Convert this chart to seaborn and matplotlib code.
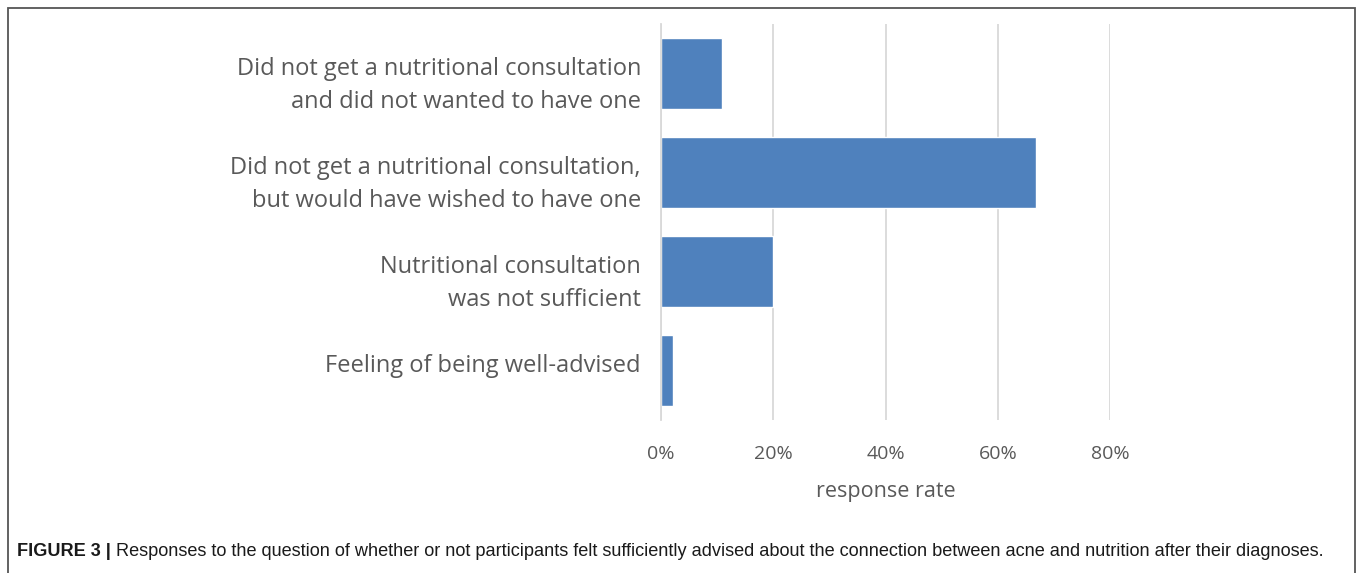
import matplotlib
matplotlib.use("Agg")
import matplotlib.pyplot as plt
import seaborn as sns
import pandas as pd
from matplotlib.patches import Rectangle
from matplotlib.ticker import PercentFormatter

categories = [
    "Did not get a nutritional consultation\nand did not wanted to have one",
    "Did not get a nutritional consultation,\nbut would have wished to have one",
    "Nutritional consultation\nwas not sufficient",
    "Feeling of being well-advised",
]
response_rate = [0.109, 0.669, 0.200, 0.021]
x_ticks = [0.0, 0.2, 0.4, 0.6, 0.8]
x_label = "response rate"
caption_bold = "FIGURE 3 |"
caption_text = (" Responses to the question of whether or not participants felt sufficiently "
                "advised about the connection between acne and nutrition after their diagnoses.")

sns.set_theme(style="white")
plt.rcParams["font.family"] = ["Open Sans", "DejaVu Sans"]

df = pd.DataFrame({"category": categories, "rate": response_rate})

fig = plt.figure(figsize=(13.57, 5.73), dpi=100)
ax = fig.add_axes([0.4871, 0.267, 0.3309, 0.691])

sns.barplot(data=df, x="rate", y="category", orient="h", color="#4F81BD",
            saturation=1, width=0.71, ax=ax)

ax.set_xlim(0, 0.8)
ax.set_xticks(x_ticks)
ax.xaxis.set_major_formatter(PercentFormatter(1.0, decimals=0))
ax.grid(axis="x", color="#D9D9D9", linewidth=1.3)
ax.set_axisbelow(True)
for side in ["top", "right", "bottom"]:
    ax.spines[side].set_visible(False)
ax.spines["left"].set_color("#D9D9D9")
ax.spines["left"].set_linewidth(1.3)
ax.tick_params(axis="x", length=0, pad=18, labelsize=14, labelcolor="#595959")
ax.tick_params(axis="y", length=0, labelleft=False)
ax.set_ylabel("")
ax.set_xlabel(x_label, fontsize=15.5, color="#595959", labelpad=13)

# category labels, right-aligned against the axis
for i, cat in enumerate(categories):
    n_lines = cat.count("\n") + 1
    dy = -12 if n_lines > 1 else 5
    ax.annotate(cat, xy=(0, i), xycoords=("axes fraction", "data"),
                xytext=(-20, dy), textcoords="offset pixels",
                ha="right", va="center", multialignment="right",
                fontsize=17, color="#595959", linespacing=1.5)

# outer frame
fig.patches.append(Rectangle((8 / 1357, -0.05), (1355 - 8) / 1357, 1 - 8 / 573 + 0.05,
                             transform=fig.transFigure, fill=False,
                             edgecolor="#555555", linewidth=1.3))

cap_family = ["Liberation Sans Narrow", "Liberation Sans", "DejaVu Sans"]
t1 = fig.text(17 / 1357, 1 - 552 / 573, caption_bold, fontsize=13.1, fontweight="bold",
              family=cap_family, color="#1a1a1a", va="center", ha="left")
fig.canvas.draw()
bb = t1.get_window_extent()
fig.text(bb.x1 / fig.bbox.width, 1 - 552 / 573, caption_text, fontsize=13.1,
         family=cap_family, color="#1a1a1a", va="center", ha="left")

fig.savefig("out.png", dpi=100)
